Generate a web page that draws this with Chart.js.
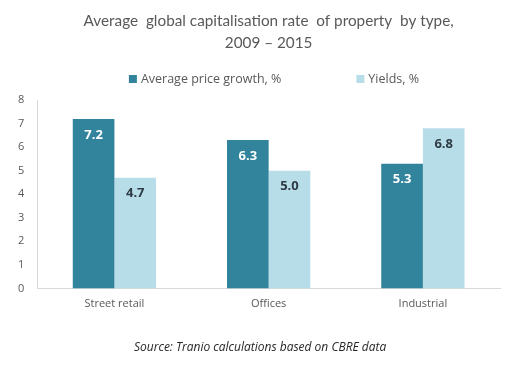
<!DOCTYPE html>
<html>
<head>
<meta charset="utf-8">
<script src="https://cdn.jsdelivr.net/npm/chart.js@4.4.1/dist/chart.umd.min.js"></script>
<style>
  html, body { margin: 0; padding: 0; background: #fff; }
  #wrap { width: 513px; height: 370px; }
</style>
</head>
<body>
<div id="wrap"><canvas id="chart" width="513" height="370"></canvas></div>
<script>
const categories = ['Street retail', 'Offices', 'Industrial'];
const priceGrowth = [7.2, 6.3, 5.3];
const yields = [4.7, 5.0, 6.8];
const yTicks = [0, 1, 2, 3, 4, 5, 6, 7, 8];

const FONT = "'Open Sans', sans-serif";
const COLORS = ['#31849b', '#b7dde8'];
const SOURCE = 'Source: Tranio calculations based on CBRE data';

// values written inside the top of each bar
const barValues = {
    id: 'barValues',
    afterDatasetsDraw(chart) {
        const ctx = chart.ctx;
        ctx.save();
        ctx.font = "bold 13px " + FONT;
        ctx.textAlign = 'center';
        ctx.textBaseline = 'middle';
        chart.data.datasets.forEach((ds, i) => {
            const meta = chart.getDatasetMeta(i);
            ctx.fillStyle = i === 0 ? '#ffffff' : '#2e3a44';
            meta.data.forEach((bar, j) => {
                ctx.fillText(ds.data[j].toFixed(1), bar.x, bar.y + 16);
            });
        });
        ctx.restore();
    }
};

// legend with a wide gap between the two entries (built-in padding also adds height)
const wideLegend = {
    id: 'wideLegend',
    afterDraw(chart) {
        const ctx = chart.ctx;
        const gap = 75, box = 8, textGap = 4;
        ctx.save();
        ctx.font = "12.5px " + FONT;
        ctx.textBaseline = 'middle';
        const items = chart.data.datasets.map((ds, i) => ({ text: ds.label, color: COLORS[i], w: box + textGap + ctx.measureText(ds.label).width }));
        const total = items.reduce((s, it) => s + it.w, 0) + gap * (items.length - 1);
        let x = 274 - total / 2;
        const y = 79;
        items.forEach(it => {
            ctx.fillStyle = it.color;
            ctx.fillRect(x, y - box / 2, box, box);
            ctx.fillStyle = '#595959';
            ctx.fillText(it.text, x + box + textGap, y);
            x += it.w + gap;
        });
        ctx.restore();
    }
};

// centre the title over the plot area, the source line a bit left of it
const centerTitles = {
    id: 'centerTitles',
    afterLayout(chart) {
        const a = chart.chartArea;
        if (chart.titleBlock) { chart.titleBlock.left = a.left; chart.titleBlock.right = a.right; }
        const sub = chart.boxes.find(b => b !== chart.titleBlock && b.options && b.options.text === SOURCE);
        if (sub) { sub.left = a.left - 17; sub.right = a.right; }
    }
};

new Chart(document.getElementById('chart'), {
    type: 'bar',
    data: {
        labels: categories,
        datasets: [
            { label: 'Average price growth, %', data: priceGrowth, backgroundColor: COLORS[0] },
            { label: 'Yields, %', data: yields, backgroundColor: COLORS[1] }
        ]
    },
    options: {
        responsive: false,
        animation: false,
        layout: { padding: { left: 5, right: 13, top: 4, bottom: 0 } },
        datasets: { bar: { categoryPercentage: 0.54, barPercentage: 1 } },
        plugins: {
            title: {
                display: true,
                text: ['Average  global capitalisation rate  of property  by type,', '2009 – 2015'],
                color: '#595959',
                font: { family: "Lato, sans-serif", size: 15.3, weight: 'normal', lineHeight: 1.44 },
                padding: { top: 6, bottom: 46 }
            },
            subtitle: {
                display: true,
                position: 'bottom',
                text: SOURCE,
                color: '#262626',
                font: { family: FONT, size: 12, style: 'italic' },
                padding: { top: 21, bottom: 15 }
            },
            legend: { display: false },
            tooltip: { enabled: false }
        },
        scales: {
            x: {
                grid: { display: false, drawTicks: false },
                border: { color: '#d9d9d9' },
                ticks: { color: '#595959', font: { family: FONT, size: 11 }, padding: 9 }
            },
            y: {
                min: 0,
                max: 8,
                grid: { display: false, drawTicks: false },
                border: { color: '#d9d9d9' },
                afterBuildTicks(axis) { axis.ticks = yTicks.map(v => ({ value: v })); },
                ticks: { color: '#595959', font: { family: FONT, size: 11 }, padding: 13, autoSkip: false }
            }
        }
    },
    plugins: [barValues, wideLegend, centerTitles]
});
</script>
</body>
</html>
